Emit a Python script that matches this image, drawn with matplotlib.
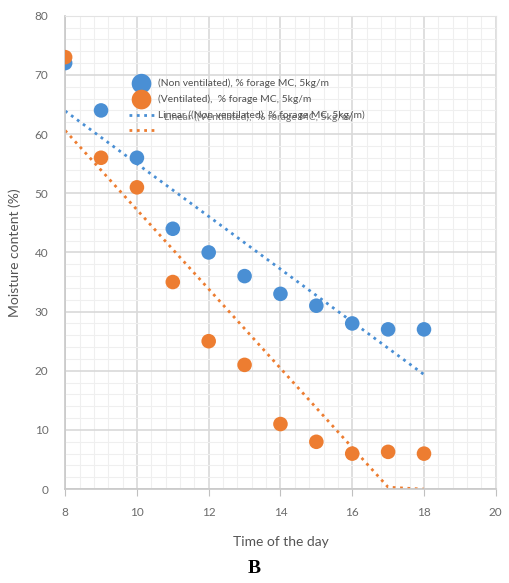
import matplotlib
matplotlib.use("Agg")
import matplotlib.pyplot as plt
import numpy as np
from matplotlib.ticker import MultipleLocator

# data
hours = [8, 9, 10, 11, 12, 13, 14, 15, 16, 17, 18]
non_vent = [72, 64, 56, 44, 40, 36, 33, 31, 28, 27, 27]
vent = [73, 56, 51, 35, 25, 21, 11, 8, 6, 6.3, 6]

lab_nv = "(Non ventilated), % forage MC, 5kg/m"
lab_v = "(Ventilated),  % forage MC, 5kg/m"
lab_lin_nv = "Linear ((Non ventilated), % forage MC, 5kg/m)"
lab_lin_v = "Linear ((Ventilated),  % forage MC, 5kg/m)"

BLUE = "#4a8fd4"
ORANGE = "#ed7d31"
GRAY = "#6b6b6b"

plt.rcParams['font.family'] = ['Lato', 'DejaVu Sans']

fig = plt.figure(figsize=(5.09, 5.83), dpi=100)
ax = fig.add_axes([0.128, 0.161, 0.846, 0.812])

x = np.array(hours, dtype=float)
fit_nv = np.polyval(np.polyfit(x, non_vent, 1), x)
fit_v = np.clip(np.polyval(np.polyfit(x, vent, 1), x), 0, None)

ax.scatter(hours, non_vent, s=110, color=BLUE, zorder=3, label=lab_nv, edgecolors='none')
ax.scatter(hours, vent, s=110, color=ORANGE, zorder=3, label=lab_v, edgecolors='none')
ax.plot(x, fit_nv, ':', color=BLUE, lw=2, zorder=2, label=lab_lin_nv)
ax.plot(x, fit_v, ':', color=ORANGE, lw=2, zorder=2, label=" ")

ax.set_xlim(8, 20)
ax.set_ylim(0, 80)
ax.xaxis.set_major_locator(MultipleLocator(2))
ax.xaxis.set_minor_locator(MultipleLocator(0.4))
ax.yaxis.set_major_locator(MultipleLocator(10))
ax.yaxis.set_minor_locator(MultipleLocator(2))
ax.grid(which='major', color='#d9d9d9', lw=1.2)
ax.grid(which='minor', color='#efefef', lw=0.8)
ax.set_axisbelow(True)

for s in ['top', 'right']:
    ax.spines[s].set_color('#e3e3e3')
for s in ['left', 'bottom']:
    ax.spines[s].set_color('#c8c8c8')
    ax.spines[s].set_linewidth(1.2)
ax.tick_params(which='major', colors='#c0c0c0', labelcolor=GRAY, labelsize=8.5, length=5)
ax.tick_params(axis='x', pad=8)
ax.tick_params(axis='y', length=0, pad=12)
ax.tick_params(which='minor', length=0)

ax.set_xlabel("Time of the day", fontsize=10, color='#555555', labelpad=13)
ax.set_ylabel("Moisture content (%)", fontsize=10, color='#555555', labelpad=10)

leg = ax.legend(loc='upper left', bbox_to_anchor=(0.132, 0.882), frameon=False,
                fontsize=7.4, labelspacing=0.62, handlelength=2.4, handletextpad=0.4,
                markerscale=1.35, borderpad=0.2)
for t in leg.get_texts():
    t.set_color('#505050')
# the last label sits on top of the third one in the reference
t3 = leg.get_texts()[2]
fig.canvas.draw()
bb = t3.get_window_extent().transformed(fig.transFigure.inverted())
fig.text(bb.x0 + 0.012, bb.y0 + 0.001, lab_lin_v, fontsize=7.4, color='#505050', alpha=0.8)

fig.text(0.5, 0.01, "B", fontsize=14, fontweight='bold', family='Liberation Serif',
         ha='center', va='bottom')

fig.savefig("out.png", dpi=100)
